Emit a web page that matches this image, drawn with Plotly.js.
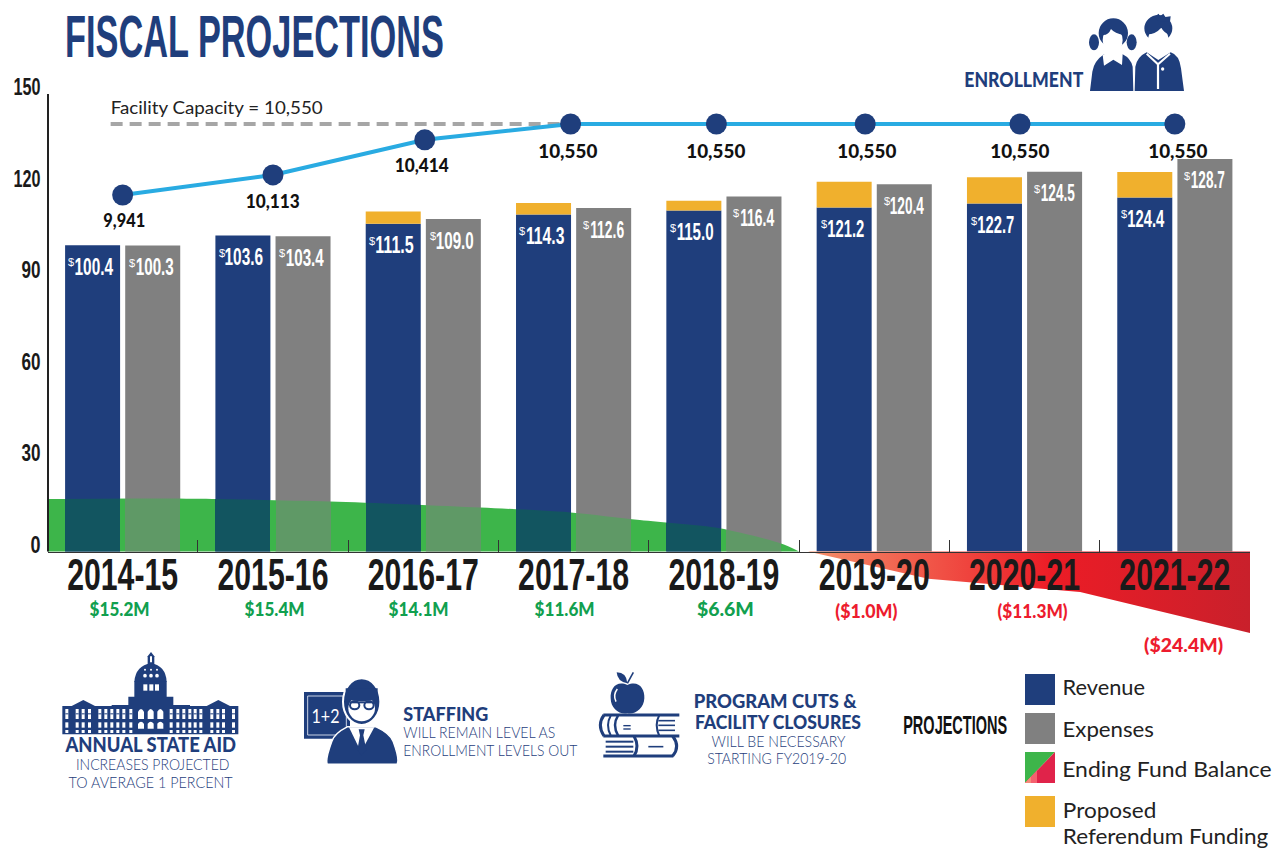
<!DOCTYPE html>
<html>
<head>
<meta charset="utf-8">
<script src="https://cdn.plot.ly/plotly-3.0.1.min.js"></script>
<style>html,body{margin:0;padding:0;background:#fff;overflow:hidden}#chart{width:1284px;height:849px}</style>
</head>
<body>
<div id="chart"></div>
<script>
// ---------- data ----------
const fiscalYears = ['2014-15','2015-16','2016-17','2017-18','2018-19','2019-20','2020-21','2021-22'];
const revenueTotal = [100.4,103.6,111.5,114.3,115.0,121.2,122.7,124.4];
const revenueBase  = [100.4,103.6,107.5,110.5,111.8,112.8,114.1,116.1];
const expenses     = [100.3,103.4,109.0,112.6,116.4,120.4,124.5,128.7];
const enrollment   = [9941,10113,10414,10550,10550,10550,10550,10550];
const enrollmentSlot = [0,1,2.01,2.98,3.95,4.94,5.97,7.0];
const fundLabels = ['$15.2M','$15.4M','$14.1M','$11.6M','$6.6M','($1.0M)','($11.3M)','($24.4M)'];
const greenSlots  = [-0.5,0.05,0.52,1.38,2.38,2.98,3.44,3.97,4.38,4.5];
const greenHeight = [17.2,17.4,17.3,16.4,14.4,12.8,10.3,7.6,2.6,0];
const redSlots    = [4.56,5.36,6.37,7.5];
const redHeight   = [0,-8.9,-13.3,-26.7];
const capacitySlots = [-0.08,2.98];
const capacityValue = [10550,10550];
const yTicks = [0,30,60,90,120,150];

// ---------- page geometry ----------
const W=1284,H=849;
const NAVY='#1F3E7C',GRAY='#808080',GOLD='#F0B02D',SKY='#29ABE2',GREEN='#11A04F',RED='#ED1C2E',INK='#1a1a1a';
const NARROW='"Liberation Sans Narrow","Liberation Sans",sans-serif', ROUND='Lato,"Noto Sans",sans-serif';
const px=x=>x/W, py=y=>1-y/H;
const y0px=551.5, unit=3.05, plotTop=y0px-150*unit, plotBot=650;
const barW=0.366, barGap=0.017;

// ---------- text helper: squeezed after drawing to the reference width ----------
const widths={};
const notes=[];
function label(text,x0,x1,yc,size,color,family,weight,plain){
  notes.push({xref:'paper',yref:'paper',x:px((x0+x1)/2),y:py(yc-1.5),xanchor:'center',yanchor:'middle',showarrow:false,
    text:text,font:{family:family||ROUND,size:size,color:color,weight:weight||400},borderpad:0});
  widths[plain||text]=x1-x0;
}

label('ENROLLMENT',964,1083,80,21,NAVY,ROUND,900);
label('Facility Capacity = 10,550',110,322,108,18,'#222');
label('ANNUAL STATE AID',64.5,235,745.5,20,NAVY,ROUND,900);
label('INCREASES PROJECTED',75.5,229,765,16,NAVY,ROUND,300);
label('TO AVERAGE 1 PERCENT',68.5,232.5,782.5,16,NAVY,ROUND,300);
label('STAFFING',403,488,715,19,NAVY,ROUND,900);
label('WILL REMAIN LEVEL AS',403,555,733,16,NAVY,ROUND,300);
label('ENROLLMENT LEVELS OUT',403,577,751,16,NAVY,ROUND,300);
label('PROGRAM CUTS &amp;',694,857,702,19,NAVY,ROUND,900,'PROGRAM CUTS &');
label('FACILITY CLOSURES',695,861,723,19,NAVY,ROUND,900);
label('WILL BE NECESSARY',712,846,742,15.5,NAVY,ROUND,300);
label('STARTING FY2019-20',707,846,759,15.5,NAVY,ROUND,300);
label('PROJECTIONS',903,1007,726,26,'#111',NARROW,700);
label('Revenue',1062.5,1145,688,21,'#222');
label('Expenses',1062.5,1154,730,21,'#222');
label('Ending Fund Balance',1062.5,1272,770,21,'#222');
label('Proposed',1062.5,1156,811,21,'#222');
label('Referendum Funding',1062.5,1268,837,20.5,'#222');
label('1+2',312,340,717,19,'#fff',ROUND,400);

// bar value labels: a small dollar sign and the number
function barLabel(yr,value,top,center,w){
  const s=value.toFixed(1);
  notes.push({x:yr,xref:'x',y:top,yref:'y',xshift:center,yshift:-21.5,yanchor:'middle',xanchor:'center',showarrow:false,
    text:s,font:{family:NARROW,size:23,color:'#fff',weight:700}});
  notes.push({x:yr,xref:'x',y:top,yref:'y',xshift:center-w/2-3.5,yshift:-17,yanchor:'middle',xanchor:'center',showarrow:false,
    text:'$',font:{family:NARROW,size:11,color:'#fff',weight:400}});
  widths[s]=w;
}
fiscalYears.forEach((yr,i)=>{
  barLabel(yr,revenueTotal[i],revenueBase[i],-28.5,i<4?38.5:37);
  barLabel(yr,expenses[i],expenses[i],i>2?33:32,i>2?34:38);
});

// enrollment value labels
const enrollLabelSlots=[0.01,1,1.99,2.96,3.95,4.95,5.97,7.02];
const enrollLabelDrop=[25,26,25,27,27,27,27,27];
enrollment.forEach((v,i)=>{
  const t=v.toLocaleString('en-US');
  notes.push({x:enrollLabelSlots[i],xref:'x2',y:v,yref:'y2',yshift:-enrollLabelDrop[i],xanchor:'center',yanchor:'middle',showarrow:false,
    text:t,font:{family:ROUND,size:19,color:'#111',weight:900}});
  widths[t]=i==0?42:(i<3?54:59);
});

// fund balance labels
const fundLabelSlots=[-0.02,1.007,1.965,2.94,4.01,4.95,6.05,7.06];
const fundLabelY=[609,609,609,609,609,611,611,645];
fundLabels.forEach((t,i)=>{
  notes.push({x:fundLabelSlots[i],xref:'x2',y:py(fundLabelY[i]),yref:'paper',xanchor:'center',yanchor:'middle',showarrow:false,
    text:t,font:{family:ROUND,size:18,color:i<5?GREEN:RED,weight:900}});
  widths[t]=i<5?(i==4?57:60):(i==5?62:(i==6?70:79));
});

// ---------- shapes: axis line, legend swatches, icons ----------
const shapes=[];
const box=(x0,y0,x1,y1,fill)=>shapes.push({type:'rect',xref:'paper',yref:'paper',x0:px(x0),x1:px(x1),y0:py(y0),y1:py(y1),fillcolor:fill,line:{width:0}});
function frame(ox,oy,s){
  const mp=d=>d.replace(/(-?[\d.]+)[ ,]+(-?[\d.]+)/g,(m,a,b)=>px(ox+a*s)+','+py(oy+b*s));
  return {
    path:(d,fill,stroke,lw)=>shapes.push({type:'path',xref:'paper',yref:'paper',path:mp(d),fillcolor:fill||'rgba(0,0,0,0)',line:{width:lw||0,color:stroke||'rgba(0,0,0,0)'}}),
    ell:(cx,cy,rx,ry,fill,stroke,lw)=>shapes.push({type:'circle',xref:'paper',yref:'paper',x0:px(ox+(cx-rx)*s),x1:px(ox+(cx+rx)*s),y0:py(oy+(cy-ry)*s),y1:py(oy+(cy+ry)*s),fillcolor:fill,line:{width:lw||0,color:stroke||fill}}),
    rect:(x0,y0,x1,y1,fill)=>shapes.push({type:'rect',xref:'paper',yref:'paper',x0:px(ox+x0*s),x1:px(ox+x1*s),y0:py(oy+y0*s),y1:py(oy+y1*s),fillcolor:fill,line:{width:0}})
  };
}
shapes.push({type:'line',xref:'paper',yref:'y',x0:px(48),x1:px(48),y0:0,y1:150,line:{color:'#222',width:2}});

// legend swatches
box(1025,674,1055,705,NAVY);
box(1025,713,1055,744,GRAY);
box(1025,796,1055,827,GOLD);
const sw=frame(1025,752,1);
sw.path('M0 0 L30 0 L0 31 Z','#3DB54A');
sw.path('M30 0 L30 31 L0 31 Z','#E0234A');
sw.path('M12 18.6 L12 31 L0 31 Z','#F4606E');
sw.path('M6 24.8 L6 31 L0 31 Z','#F58A7A');

// kids icon
const k=frame(1080,5,1/3);
k.ell(42,112,15,24,NAVY); k.ell(155,112,15,24,NAVY);
k.ell(100,84,44,44,NAVY);
k.path('M30 258 L37 200 Q42 168 72 148 L100 160 L128 148 Q152 160 158 185 L160 258 Z',NAVY);
k.path('M164 258 L166 185 Q172 155 200 142 L235 165 L272 142 Q298 150 303 190 L312 258 Z',NAVY);
k.path('M68 150 L100 134 L128 148 L126 180 L100 164 L72 182 Z','#fff');
k.ell(98,106,30,38,'#fff');
k.path('M66 90 Q85 92 93 72 Q105 86 130 90 L132 60 L66 60 Z',NAVY);
k.ell(235,70,42,40,NAVY);
k.path('M222 36 L236 26 L240 34 L250 26 L256 36 L272 34 L270 50 L240 50 Z',NAVY);
k.ell(235,106,31,39,'#fff');
k.path('M202 88 Q226 88 244 68 Q252 84 268 88 L270 60 L202 60 Z',NAVY);
k.path('M200 146 L234 178 L270 146',null,'#fff',2);
k.path('M234 178 L234 252',null,'#fff',2.2);
k.ell(248,192,5,5,'#fff');

// capitol icon
const c=frame(55,645,1/3);
c.rect(22,183,550,268,NAVY);
c.path('M50 183 L85 165 L120 183 Z',NAVY);
c.path('M455 183 L490 165 L525 183 Z',NAVY);
c.rect(170,180,405,186,NAVY);
c.rect(220,155,355,183,NAVY);
c.rect(238,108,335,156,NAVY);
c.path('M238 110 Q242 62 288 55 Q332 62 335 110 Z',NAVY);
c.path('M278 58 L278 34 L288 21 L298 34 L298 58 Z',NAVY);
c.rect(285,34,291,52,'#fff');
[270,288,306].forEach(x=>{c.ell(x,92,5.5,5.5,'#fff');c.ell(x,74,3,3,'#fff');});
[[265,277],[283,295],[300,312]].forEach(r=>c.rect(r[0],118,r[1],137,'#fff'));
[35,66,84,103,134,152,170,188,206,227,348,368,386,404,420,437,470,488,505,535].forEach(x=>{
  c.rect(x-4,192,x+5,222,'#fff'); c.rect(x-4,232,x+5,248,'#fff'); c.rect(x-4,255,x+5,264,'#fff');
  c.rect(x-4,205,x+5,208,NAVY);
});
[258,287,316].forEach(x=>{
  c.path('M'+(x-9)+' 222 L'+(x-9)+' 200 Q'+x+' 184 '+(x+9)+' 200 L'+(x+9)+' 222 Z','#fff');
  c.path('M'+(x-9)+' 251 L'+(x-9)+' 236 Q'+x+' 224 '+(x+9)+' 236 L'+(x+9)+' 251 Z','#fff');
});

// teacher icon
const t=frame(295,670,1/3);
t.rect(27,66,165,206,NAVY);
t.path('M38 78 L154 78 L154 195 L38 195 Z',null,'#C9D2E4',1);
t.path('M97 283 Q90 270 110 215 Q118 190 158 170 L242 170 Q285 190 295 215 Q315 270 306 283 Z',NAVY,'#fff',1.5);
t.path('M162 172 L198 246 L238 172 Z','#fff');
t.path('M191 178 L209 178 L205 196 L214 240 L200 256 L187 240 L195 196 Z',NAVY);
t.ell(200,95,56,70,NAVY,'#fff',2);
t.ell(200,115,40,39,'#fff');
t.path('M152 88 Q200 100 248 88 L248 55 L152 55 Z',NAVY);
t.ell(179,106,14,12,'#fff',NAVY,2);
t.ell(222,106,14,12,'#fff',NAVY,2);
t.path('M164 100 L237 100 L237 94 L164 94 Z',NAVY);

// apple and books icon
const b=frame(590,665,1/3);
b.path('M112 60 C145 45 165 70 163 100 C162 130 135 150 112 145 C88 150 62 130 62 100 C60 70 80 45 112 60 Z',NAVY);
b.path('M80 22 Q110 22 112 55 Q82 50 80 22 Z',NAVY);
b.path('M112 55 L130 22',null,NAVY,1.6);
b.path('M78 110 Q68 90 82 72',null,'#fff',1.5);
b.path('M40 150 L268 150',null,NAVY,3);
b.path('M40 213 L268 213',null,NAVY,3);
b.path('M42 150 Q20 180 42 213',null,NAVY,3);
b.path('M62 152 Q46 180 62 211',null,NAVY,2);
b.path('M84 152 Q66 180 84 211',null,NAVY,2.5);
b.path('M100 182 L122 182',null,NAVY,1.4);
b.path('M100 192 L122 192',null,NAVY,1.4);
b.path('M208 150 Q192 180 208 213',null,NAVY,2);
[167,181,196].forEach(y=>b.path('M205 '+y+' L255 '+y,null,NAVY,1.6));
b.path('M40 273 L250 273',null,NAVY,3);
b.path('M248 213 Q272 245 248 273',null,NAVY,3);
b.path('M132 213 Q150 245 132 273',null,NAVY,3);
[230,245,260].forEach(y=>b.path('M47 '+y+' L130 '+y,null,NAVY,2));
b.path('M175 245 L220 245',null,NAVY,1.6);

// ---------- fund-balance fill colours follow the bars beneath ----------
const greenStart=-0.5, greenStop=4.5;
const gpos=v=>(v-greenStart)/(greenStop-greenStart);
const overWhite='#3DB54A',overRev='#125560',overExp='#5F9966';
const greenScale=[[0,overWhite]];
for(let i=0;i<5;i++){
  const a=i-barGap-barW,b1=i-barGap,c1=i+barGap,d=i+barGap+barW;
  greenScale.push([gpos(a),overWhite],[gpos(a),overRev],[gpos(b1),overRev],[gpos(b1),overWhite],
                  [gpos(c1),overWhite],[gpos(c1),overExp],[gpos(d),overExp],[gpos(d),overWhite]);
}
greenScale.push([1,overWhite]);

const traces=[
 {type:'bar',name:'Revenue',x:fiscalYears,y:revenueBase,width:barW,offset:-barGap-barW,marker:{color:NAVY,line:{width:0}}},
 {type:'bar',name:'Proposed Referendum Funding',x:fiscalYears,y:revenueTotal.map((v,i)=>v-revenueBase[i]),base:revenueBase,width:barW,offset:-barGap-barW,marker:{color:GOLD,line:{width:0}}},
 {type:'bar',name:'Expenses',x:fiscalYears,y:expenses,width:barW,offset:barGap,marker:{color:GRAY,line:{width:0}}},
 {type:'scatter',name:'Ending Fund Balance',mode:'lines',x:greenSlots,y:greenHeight,xaxis:'x2',yaxis:'y',line:{width:0,shape:'spline',smoothing:0.8},fill:'tozeroy',
  fillgradient:{type:'horizontal',start:greenStart,stop:greenStop,colorscale:greenScale}},
 {type:'scatter',name:'Ending Fund Balance deficit',mode:'lines',x:redSlots,y:redHeight,xaxis:'x2',yaxis:'y',line:{width:0},fill:'tozeroy',
  fillgradient:{type:'horizontal',start:redSlots[0],stop:redSlots[3],colorscale:[[0,'#F58F6A'],[0.55,'#EC1C26'],[1,'#C9202B']]}},
 {type:'scatter',name:'Facility Capacity',mode:'lines',x:capacitySlots,y:capacityValue,xaxis:'x2',yaxis:'y2',line:{color:'#A6A6A6',width:4,dash:'12px,7px'}},
 {type:'scatter',name:'Enrollment',mode:'lines+markers',x:enrollmentSlot,y:enrollment,xaxis:'x2',yaxis:'y2',line:{color:SKY,width:4},marker:{color:NAVY,size:21}}
];

const layout={
 width:W,height:H,margin:{l:0,r:0,t:0,b:0,pad:0},paper_bgcolor:'#fff',plot_bgcolor:'rgba(0,0,0,0)',showlegend:false,hovermode:false,barmode:'overlay',
 title:{text:'FISCAL PROJECTIONS',x:px(254.5),xanchor:'center',xref:'paper',y:py(36.5),yanchor:'middle',yref:'paper',font:{family:NARROW,size:59,color:NAVY,weight:700}},
 xaxis:{type:'category',categoryorder:'array',categoryarray:fiscalYears,domain:[px(47.5),px(1250)],range:[-0.5,7.5],anchor:'free',position:py(y0px),
   showgrid:false,zeroline:false,showline:true,linecolor:'#333',linewidth:1.5,ticks:'inside',tickson:'boundaries',ticklen:12,tickcolor:'#333',tickwidth:1,
   tickangle:0,ticklabelstandoff:-17,layer:'above traces',tickfont:{family:NARROW,size:45,color:INK,weight:700},automargin:false},
 yaxis:{range:[-(plotBot-y0px)/unit,150],domain:[py(plotBot),py(plotTop)],anchor:'x',showgrid:false,zeroline:false,showline:false,ticks:'',tickmode:'array',tickvals:yTicks,ticktext:yTicks.map(String),
   ticklabelposition:'outside',ticklabelstandoff:6,tickfont:{family:NARROW,size:24,color:INK,weight:700},automargin:false},
 xaxis2:{overlaying:'x',range:[-0.5,7.5],visible:false,anchor:'y'},
 yaxis2:{overlaying:'y',range:[6039,10807],visible:false,anchor:'x2'},
 shapes:shapes,annotations:notes
};

Plotly.newPlot('chart',traces,layout,{displayModeBar:false,staticPlot:true}).then(gd=>{
  const fit=(el,w)=>{el.setAttribute('textLength',w);el.setAttribute('lengthAdjust','spacingAndGlyphs');};
  gd.querySelectorAll('.annotation-text').forEach(el=>{const w=widths[el.textContent];if(w)fit(el,w);});
  gd.querySelectorAll('.xtick text').forEach(el=>fit(el,111));
  gd.querySelectorAll('.ytick text').forEach(el=>{
    fit(el,el.textContent.length>2?27:(el.textContent.length>1?19:10));
    el.setAttribute('y',parseFloat(el.getAttribute('y'))-7);
  });
  const tt=gd.querySelector('.gtitle'); if(tt) fit(tt,379);
});
</script>
</body>
</html>
